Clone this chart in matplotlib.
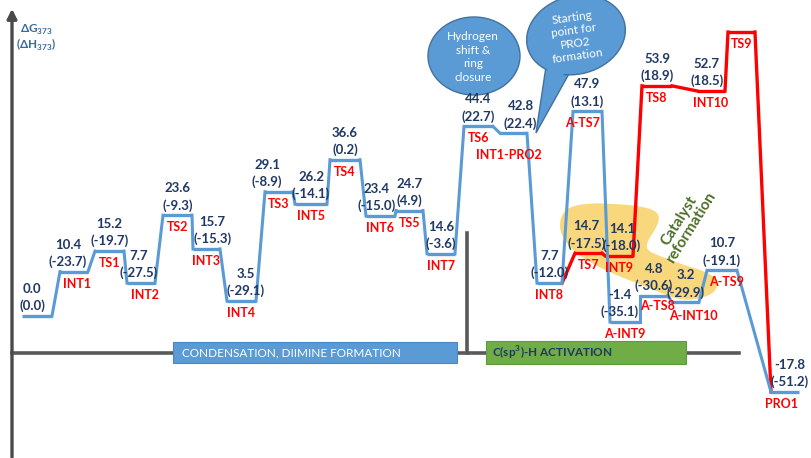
import numpy as np
import matplotlib.pyplot as plt
from matplotlib.patches import Rectangle, Ellipse, Polygon

plt.rcParams['font.family'] = ['Lato', 'DejaVu Sans']
plt.rcParams['mathtext.fontset'] = 'custom'
plt.rcParams['mathtext.rm'] = 'Lato'
plt.rcParams['mathtext.bf'] = 'Lato:bold'

# main pathway (blue), kcal/mol
main_names = ['', 'INT1', 'TS1', 'INT2', 'TS2', 'INT3', 'INT4', 'TS3', 'INT5', 'TS4',
              'INT6', 'TS5', 'INT7', 'TS6', 'INT1-PRO2', 'INT8', 'A-TS7', 'A-INT9',
              'A-TS8', 'A-INT10', 'A-TS9', 'PRO1']
main_dG = [0.0, 10.4, 15.2, 7.7, 23.6, 15.7, 3.5, 29.1, 26.2, 36.6, 23.4, 24.7, 14.6,
           44.4, 42.8, 7.7, 47.9, -1.4, 4.8, 3.2, 10.7, -17.8]
main_dH = [0.0, -23.7, -19.7, -27.5, -9.3, -15.3, -29.1, -8.9, -14.1, 0.2, -15.0, 4.9,
           -3.6, 22.7, 22.4, -12.0, 13.1, -35.1, -30.6, -29.9, -19.1, -51.2]

# branch leaving INT8 and ending at PRO1 (red); TS9 carries no value label
alt_names = ['TS7', 'INT9', 'TS8', 'INT10', 'TS9']
alt_dG = [14.7, 14.1, 53.9, 52.7, 66.5]
alt_dH = [-17.5, -18.0, 18.9, 18.5, None]
alt_shown = [True, True, True, True, False]

# horizontal extent of each level along the reaction coordinate (pixels)
main_x = [(22, 52), (60, 88), (95, 124), (127, 155), (163, 192), (193, 220), (227, 256),
          (265, 293), (295, 327), (330, 360), (366, 395), (396, 423), (427, 455),
          (464, 493), (500, 527), (537, 562), (573, 602), (610, 640), (640, 668),
          (672, 699), (707, 737), (771, 799)]
alt_x = [(575, 602), (605, 633), (642, 672), (697, 725), (728, 755)]

# small nudges for crowded labels (pixels)
value_dx = {'': -5, 'INT1': -6, 'INT2': -2, 'INT3': 6, 'INT4': 4, 'TS3': -12,
            'INT6': -4, 'INT1-PRO2': 7, 'A-INT9': -5, 'PRO1': 5, 'INT10': -4,
            'TS7': -2, 'INT9': 3}
name_dx = {'INT1': 3, 'INT2': 4, 'INT1-PRO2': -5, 'A-TS7': -5, 'A-TS9': 5, 'PRO1': -3,
           'A-TS8': 4, 'A-INT10': 8}
name_dy = {'INT1-PRO2': -22, 'A-TS8': -10, 'A-INT10': -14}

BLUE = '#5B9BD5'
RED = '#FF0000'
NAVY = '#1F3864'
GREY = '#4A4A4A'

W, H = 812, 458
ZERO_PX, PX_PER_UNIT = 316, 4.27

fig = plt.figure(figsize=(W / 100, H / 100), dpi=100)

# background layer in pixel units: axis, phase boxes, bubbles, highlight
bg = fig.add_axes([0, 0, 1, 1])
bg.set_xlim(0, W)
bg.set_ylim(H, 0)
bg.axis('off')

# energy layer
ax = fig.add_axes([0, 0, 1, 1])
ax.set_xlim(0, W)
ax.set_ylim((ZERO_PX - H) / PX_PER_UNIT, ZERO_PX / PX_PER_UNIT)
ax.patch.set_alpha(0)
ax.axis('off')


def chaikin(pts, n=2):
    p = np.asarray(pts, float)
    for _ in range(n):
        q = np.roll(p, -1, axis=0)
        s = np.empty((2 * len(p), 2))
        s[0::2] = 0.75 * p + 0.25 * q
        s[1::2] = 0.25 * p + 0.75 * q
        p = s
    return p


# highlighted catalyst reformation region
blob = [(560, 218), (568, 207), (590, 203), (617, 204), (638, 206), (655, 210),
        (660, 218), (655, 230), (648, 240), (646, 250), (662, 257), (684, 265),
        (704, 271), (716, 278), (718, 287), (711, 295), (693, 300), (676, 299),
        (659, 292), (639, 284), (616, 275), (599, 267), (581, 257), (568, 245),
        (560, 232)]
bg.add_patch(Polygon(chaikin(blob), closed=True, facecolor='#F9D36E', edgecolor='none',
                     alpha=0.9, zorder=1))
bg.text(685, 224, 'Catalyst\nreformation', rotation=58, ha='center', va='center',
        fontsize=11, fontweight='bold', color='#4F6F2A', linespacing=1.0, zorder=2)

# y axis with arrow
bg.annotate('', xy=(12, 6), xytext=(12, H + 2),
            arrowprops=dict(arrowstyle='-|>', lw=2.4, color=GREY, mutation_scale=14))
bg.text(20, 30, r'ΔG$_{\mathbf{373}}$', fontsize=8.5, fontweight='bold', color='#3A6B96',
        va='center')
bg.text(16, 45, r'(ΔH$_{\mathbf{373}}$)', fontsize=8.5, fontweight='bold', color='#3A6B96',
        va='center')

# baseline, separator and phase boxes
bg.plot([12, 739], [353, 353], color='#595959', lw=2.6, zorder=2)
bg.plot([467, 467], [233, 353], color='#595959', lw=2.6, zorder=2)
bg.add_patch(Rectangle((173, 342), 284, 21, facecolor='#5B9BD5', edgecolor='#4A86C5',
                       lw=0.8, zorder=3))
bg.text(182, 353, 'CONDENSATION, DIIMINE FORMATION', color='white', fontsize=8.5,
        va='center', zorder=4)
bg.add_patch(Rectangle((486, 341), 200, 23, facecolor='#70AD47', edgecolor='#5E9B3A',
                       lw=0.8, zorder=3))
bg.text(492, 353, r'C(sp$^{\mathbf{3}}$)-H ACTIVATION', color=NAVY, fontsize=8.5,
        fontweight='bold', va='center', zorder=4)

# speech bubbles
bg.add_patch(Ellipse((474, 56), 92, 78, facecolor='#5B9BD5', edgecolor='#41719C',
                     lw=1, zorder=3))
bg.text(473, 57, 'Hydrogen\nshift &\nring\nclosure', color='white', fontsize=8.5,
        ha='center', va='center', linespacing=1.3, zorder=4)
bg.add_patch(Polygon([(547, 60), (536, 133), (570, 72)], closed=True,
                     facecolor='#5B9BD5', edgecolor='#41719C', lw=1, zorder=3))
bg.add_patch(Ellipse((576, 35), 100, 78, angle=-15, facecolor='#5B9BD5',
                     edgecolor='#41719C', lw=1, zorder=3))
bg.add_patch(Polygon([(549, 58), (540, 118), (566, 70)], closed=True,
                     facecolor='#5B9BD5', edgecolor='none', zorder=3))
bg.text(575, 37, 'Starting\npoint for\nPRO2\nformation', color='white', fontsize=8.5,
        ha='center', va='center', linespacing=1.2, rotation=8, zorder=4)


def draw_levels(xs, energies, color, lw):
    for (x0, x1), e in zip(xs, energies):
        ax.plot([x0, x1], [e, e], color=color, lw=lw, solid_capstyle='butt', zorder=3)


def draw_links(xs, energies, color, lw):
    for i in range(len(xs) - 1):
        ax.plot([xs[i][1], xs[i + 1][0]], [energies[i], energies[i + 1]],
                color=color, lw=lw, zorder=3)


def label(name, xs, g, h, show_values=True):
    xc = (xs[0] + xs[1]) / 2
    if show_values:
        dx = value_dx.get(name, 0)
        ax.annotate(f'{g:.1f}', (xc, g), xytext=(dx, 27), textcoords='offset pixels',
                    ha='center', va='center', fontsize=9.5, fontweight='bold', color=NAVY,
                    zorder=5)
        ax.annotate(f'({h:.1f})', (xc, g), xytext=(dx, 10), textcoords='offset pixels',
                    ha='center', va='center', fontsize=9.5, fontweight='bold', color=NAVY,
                    zorder=5)
    if name:
        ax.annotate(name, (xc, g), xytext=(name_dx.get(name, 0), name_dy.get(name, -12)),
                    textcoords='offset pixels', ha='center', va='center', fontsize=9,
                    fontweight='bold', color=RED, zorder=5)


# red branch: INT8 -> TS7 -> INT9 -> TS8 -> INT10 -> TS9 -> PRO1
i8, ip = main_names.index('INT8'), main_names.index('PRO1')
red_x = [main_x[i8]] + alt_x + [main_x[ip]]
red_e = [main_dG[i8]] + alt_dG + [main_dG[ip]]
draw_links(red_x, red_e, RED, 2.4)
draw_levels(alt_x, alt_dG, RED, 2.4)

# blue main pathway
draw_links(main_x, main_dG, BLUE, 2.2)
draw_levels(main_x, main_dG, BLUE, 2.4)

for n, xs, g, h in zip(main_names, main_x, main_dG, main_dH):
    label(n, xs, g, h)
for n, xs, g, h, s in zip(alt_names, alt_x, alt_dG, alt_dH, alt_shown):
    label(n, xs, g, h, s)

fig.savefig('out.png', dpi=100)
